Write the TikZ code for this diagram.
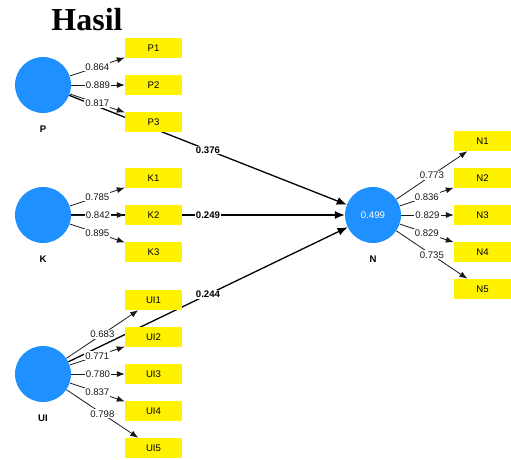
\documentclass[tikz,border=0pt]{standalone}
\usepackage{fontspec}
\setmainfont{Liberation Serif}
\setsansfont{Liberation Sans}
\usetikzlibrary{arrows.meta,backgrounds}

\definecolor{lvblue}{RGB}{30,144,255}

\begin{document}
\begin{tikzpicture}[
    x=1pt, y=-1pt,
    font=\sffamily\fontsize{9.6}{11}\selectfont,
    latent/.style={circle, fill=lvblue, minimum size=56pt, inner sep=0pt, text=white},
    indicator/.style={rectangle, fill=yellow, minimum width=57pt, minimum height=20pt, inner sep=0pt},
    lvname/.style={font=\sffamily\bfseries\fontsize{9.6}{11}\selectfont},
    loading/.style={-{Latex[length=8pt,width=6pt]}, black!90, line width=0.8pt},
    pathcoef/.style={-{Latex[length=10pt,width=8pt]}, line width=1.3pt},
    weight/.style={fill=white, inner sep=1pt},
    bweight/.style={fill=white, inner sep=1pt, font=\sffamily\bfseries\fontsize{9.6}{11}\selectfont}
]
\useasboundingbox (0,0) rectangle (511,459);

\node[font=\rmfamily\bfseries\fontsize{32}{34}\selectfont, anchor=base] (title) at (87,30) {Hasil};

% latent variables
\node[latent] (P) at (43,85) {};
\node[latent] (K) at (43,215) {};
\node[latent] (UI) at (43,374) {};
\node[latent] (N) at (373,215) {0.499};

\node[lvname] (Plab) at (43,129) {P};
\node[lvname] (Klab) at (43,259) {K};
\node[lvname] (UIlab) at (43,418) {UI};
\node[lvname] (Nlab) at (373,259) {N};

% indicators
\node[indicator] (P1) at (153.5,48) {P1};
\node[indicator] (P2) at (153.5,85) {P2};
\node[indicator] (P3) at (153.5,122) {P3};

\node[indicator] (K1) at (153.5,178) {K1};
\node[indicator] (K2) at (153.5,215) {K2};
\node[indicator] (K3) at (153.5,252) {K3};

\node[indicator] (UI1) at (153.5,300) {UI1};
\node[indicator] (UI2) at (153.5,337) {UI2};
\node[indicator] (UI3) at (153.5,374) {UI3};
\node[indicator] (UI4) at (153.5,411) {UI4};
\node[indicator] (UI5) at (153.5,448) {UI5};

\node[indicator] (N1) at (482.5,141) {N1};
\node[indicator] (N2) at (482.5,178) {N2};
\node[indicator] (N3) at (482.5,215) {N3};
\node[indicator] (N4) at (482.5,252) {N4};
\node[indicator] (N5) at (482.5,289) {N5};

\begin{scope}[on background layer]
% inner model
\draw[pathcoef] (P) -- node[bweight] {0.376} (N);
\draw[pathcoef] (K) -- node[bweight] {0.249} (N);
\draw[pathcoef] (UI) -- node[bweight] {0.244} (N);

% outer model
\draw[loading] (P) -- node[weight] {0.864} (P1);
\draw[loading] (P) -- node[weight] {0.889} (P2);
\draw[loading] (P) -- node[weight] {0.817} (P3);

\draw[loading] (K) -- node[weight] {0.785} (K1);
\draw[loading] (K) -- node[weight] {0.842} (K2);
\draw[loading] (K) -- node[weight] {0.895} (K3);

\draw[loading] (UI) -- node[weight] {0.683} (UI1);
\draw[loading] (UI) -- node[weight] {0.771} (UI2);
\draw[loading] (UI) -- node[weight] {0.780} (UI3);
\draw[loading] (UI) -- node[weight] {0.837} (UI4);
\draw[loading] (UI) -- node[weight] {0.798} (UI5);

\draw[loading] (N) -- node[weight] {0.773} (N1);
\draw[loading] (N) -- node[weight] {0.836} (N2);
\draw[loading] (N) -- node[weight] {0.829} (N3);
\draw[loading] (N) -- node[weight] {0.829} (N4);
\draw[loading] (N) -- node[weight] {0.735} (N5);
\end{scope}

\end{tikzpicture}
\end{document}
